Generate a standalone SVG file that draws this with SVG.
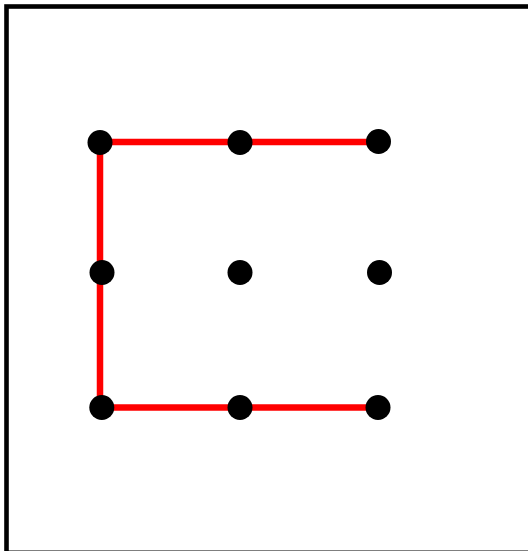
<svg xmlns="http://www.w3.org/2000/svg" width="528" height="551" viewBox="0 0 528 551">
<style>
.frame{fill:none;stroke:#000;stroke-width:4.6}
.path{fill:none;stroke:#ff0000;stroke-width:6.5;stroke-linejoin:miter}
.dot{fill:#000}
</style>
<rect x="0" y="0" width="528" height="551" fill="#fff"/>
<rect class="frame" x="6.5" y="6.5" width="530" height="546.3"/>
<g id="connectors">
<path class="path" d="M378,142 H100 V407.5 H378"/>
</g>
<g id="n1"><circle class="dot" cx="100" cy="142.5" r="12.5"/></g>
<g id="n2"><circle class="dot" cx="240" cy="142.5" r="12.5"/></g>
<g id="n3"><circle class="dot" cx="378.5" cy="141.5" r="12.5"/></g>
<g id="n4"><circle class="dot" cx="102" cy="272.5" r="12.5"/></g>
<g id="n5"><circle class="dot" cx="240" cy="272.5" r="12.5"/></g>
<g id="n6"><circle class="dot" cx="379.5" cy="272.5" r="12.5"/></g>
<g id="n7"><circle class="dot" cx="101.8" cy="407.5" r="12.5"/></g>
<g id="n8"><circle class="dot" cx="240" cy="407.5" r="12.5"/></g>
<g id="n9"><circle class="dot" cx="378" cy="407.5" r="12.5"/></g>
</svg>
